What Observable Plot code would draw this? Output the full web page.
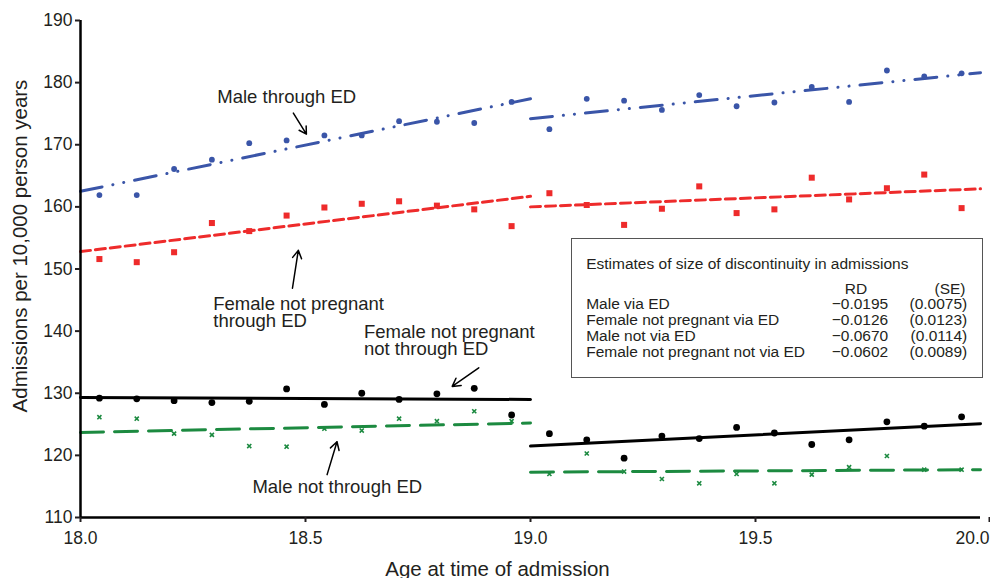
<!DOCTYPE html>
<html>
<head>
<meta charset="utf-8">
<script src="https://cdn.jsdelivr.net/npm/d3@7"></script>
<script src="https://cdn.jsdelivr.net/npm/@observablehq/plot@0.6"></script>
<style>
  body { margin: 0; background: white; }
  #wrap { position: relative; width: 990px; height: 578px; font-family: 'Liberation Sans', Arial, Helvetica, sans-serif; }
  #wrap svg { position: absolute; left: 0; top: 0; }
  #table { position: absolute; left: 571px; top: 238px; width: 412px; height: 140px; border: 1.5px solid #555; box-sizing: border-box; background: white; color: #231f20; font-size: 15.5px; }
  #table span { position: absolute; line-height: 15.5px; white-space: nowrap; }
</style>
</head>
<body>
<div id="wrap"><div id="table"></div></div>
<script>
// ---------- data ----------
const ages = [18.042, 18.125, 18.208, 18.292, 18.375, 18.458, 18.542, 18.625, 18.708, 18.792, 18.875, 18.958,
              19.042, 19.125, 19.208, 19.292, 19.375, 19.458, 19.542, 19.625, 19.708, 19.792, 19.875, 19.958];

const maleED = [161.9, 161.9, 166.1, 167.6, 170.25, 170.7, 171.5, 171.5, 173.8, 173.7, 173.5, 176.9,
                172.5, 177.4, 177.1, 175.6, 178.0, 176.2, 176.8, 179.3, 176.9, 181.95, 181.0, 181.5];
const femaleED = [151.6, 151.1, 152.7, 157.4, 156.1, 158.6, 159.9, 160.5, 160.9, 160.2, 159.6, 156.9,
                  162.2, 160.3, 157.1, 159.7, 163.3, 159.0, 159.6, 164.7, 161.2, 163.0, 165.2, 159.8];
const femaleNotED = [129.2, 129.1, 128.8, 128.5, 128.7, 130.7, 128.2, 130.0, 129.0, 129.9, 130.8, 126.5,
                     123.5, 122.5, 119.55, 123.1, 122.7, 124.5, 123.6, 121.75, 122.5, 125.4, 124.7, 126.2];
const maleNotED = [126.15, 125.9, 123.5, 123.3, 121.5, 121.4, 124.3, 124.0, 125.9, 125.5, 127.1, 125.5,
                   117.0, 120.3, 117.4, 116.2, 115.5, 117.0, 115.5, 116.9, 118.1, 119.9, 117.7, 117.7];

// fitted lines: [value at start, value at end] for each side of the cutoff
const fitAgesLeft = [18.0, 19.0];
const fitAgesRight = [19.0, 20.0];
const maleEDFitLeft = [162.5, 177.4];
const maleEDFitRight = [174.2, 181.6];
const femaleEDFitLeft = [152.8, 161.7];
const femaleEDFitRight = [160.0, 162.9];
const femaleNotEDFitLeft = [129.3, 129.0];
const femaleNotEDFitRight = [121.5, 125.1];
const maleNotEDFitLeft = [123.7, 125.2];
const maleNotEDFitRight = [117.3, 117.7];

const xTicks = [18.0, 18.5, 19.0, 19.5];
const xLastTick = [20.0];
const yTicks = [110, 120, 130, 140, 150, 160, 170, 180, 190];

const xLabel = "Age at time of admission";
const yLabel = "Admissions per 10,000 person years";

// annotations (data units)
const annotationText = ["Male through ED", "Female not pregnant\nthrough ED", "Female not pregnant\nnot through ED", "Male not through ED"];
const annotationAge = [18.304, 18.295, 18.630, 18.382];
const annotationValue = [176.7, 140.6, 136.2, 114.0];
const arrowAge1 = [18.473, 18.471, 18.885, 18.548];
const arrowValue1 = [175.1, 146.9, 134.1, 116.9];
const arrowAge2 = [18.502, 18.484, 18.826, 18.570];
const arrowValue2 = [171.7, 153.0, 131.1, 122.2];

// table
const tableTitle = "Estimates of size of discontinuity in admissions";
const tableHeaders = ["RD", "(SE)"];
const tableRowLabels = ["Male via ED", "Female not pregnant via ED", "Male not via ED", "Female not pregnant not via ED"];
const tableRD = ["\u22120.0195", "\u22120.0126", "\u22120.0670", "\u22120.0602"];
const tableSE = ["(0.0075)", "(0.0123)", "(0.0114)", "(0.0089)"];

// ---------- build ----------
const fontFamily = "'Liberation Sans', Arial, Helvetica, sans-serif";
const textColor = "#231f20";

function pts(values) { return ages.map((a, i) => ({age: a, value: values[i]})); }
function fit(left, right) {
  return [
    ...fitAgesLeft.map((a, i) => ({age: a, value: left[i], side: "left"})),
    ...fitAgesRight.map((a, i) => ({age: a, value: right[i], side: "right"}))
  ];
}
const annotations = annotationText.map((t, i) => ({text: t, age: annotationAge[i], value: annotationValue[i]}));
const arrows = arrowAge1.map((a, i) => ({x1: a, y1: arrowValue1[i], x2: arrowAge2[i], y2: arrowValue2[i]}));

const blue = "#3a55a8", red = "#ee2b2b", green = "#1c8a40", black = "#000000";

const chart = Plot.plot({
  width: 990,
  height: 578,
  marginLeft: 80,
  marginRight: 10,
  marginTop: 20,
  marginBottom: 61,
  x: {domain: [18, 20]},
  y: {domain: [110, 190]},
  style: {fontFamily, background: "transparent", color: textColor},
  marks: [
    // fitted lines
    Plot.line(fit(maleEDFitLeft, maleEDFitRight), {x: "age", y: "value", z: "side", stroke: blue, strokeWidth: 3, strokeDasharray: "22,11,0.1,11,0.1,11", strokeLinecap: "round"}),
    Plot.line(fit(femaleEDFitLeft, femaleEDFitRight), {x: "age", y: "value", z: "side", stroke: red, strokeWidth: 3, strokeDasharray: "10,5"}),
    Plot.line(fit(femaleNotEDFitLeft, femaleNotEDFitRight), {x: "age", y: "value", z: "side", stroke: black, strokeWidth: 3}),
    Plot.line(fit(maleNotEDFitLeft, maleNotEDFitRight), {x: "age", y: "value", z: "side", stroke: green, strokeWidth: 3, strokeDasharray: "23,11"}),
    // points
    Plot.dot(pts(maleED), {x: "age", y: "value", r: 2.9, fill: blue, symbol: "circle"}),
    Plot.dot(pts(femaleED), {x: "age", y: "value", r: 3.4, fill: red, symbol: "square"}),
    Plot.dot(pts(femaleNotED), {x: "age", y: "value", r: 3.4, fill: black, symbol: "circle"}),
    Plot.dot(pts(maleNotED), {x: "age", y: "value", r: 2, stroke: green, strokeWidth: 1.6, symbol: "times"}),
    // annotations
    Plot.arrow(arrows, {x1: "x1", y1: "y1", x2: "x2", y2: "y2", stroke: black, strokeWidth: 1.5, headLength: 9}),
    Plot.text(annotations, {x: "age", y: "value", text: "text", textAnchor: "start", lineAnchor: "bottom", lineHeight: 0.92, fontSize: 18.5, fill: textColor}),
    // axes
    Plot.ruleX([18], {stroke: black, strokeWidth: 2.5}),
    Plot.ruleY([110], {stroke: black, strokeWidth: 2.5}),
    Plot.axisX(xTicks, {tickFormat: d => d.toFixed(1), tickSize: 5, tickPadding: 9, fontSize: 17.5, strokeWidth: 2, label: null, fill: textColor}),
    Plot.axisX(xLastTick, {tickFormat: d => d.toFixed(1), tickSize: 5, tickPadding: 9, fontSize: 17.5, strokeWidth: 2, label: null, textAnchor: "end", dx: 9, fill: textColor}),
    Plot.axisY(yTicks, {tickSize: 5, tickPadding: 3, fontSize: 17.5, strokeWidth: 2, label: null, fill: textColor}),
    Plot.text([xLabel], {frameAnchor: "bottom", lineAnchor: "bottom", dx: -33, dy: 58, fontSize: 20.5, fill: textColor}),
    Plot.text([yLabel], {frameAnchor: "left", textAnchor: "middle", lineAnchor: "middle", rotate: -90, dx: -60, dy: -23, fontSize: 20.5, fill: textColor})
  ]
});
document.getElementById("wrap").prepend(chart);

// table overlay
const table = document.getElementById("table");
const asc = 13.1;        // baseline offset within span
function addSpan(text, baseline, opts) {
  const s = document.createElement("span");
  s.textContent = text;
  s.style.top = (baseline - 1.5 - asc) + "px";
  if (opts.left != null) s.style.left = opts.left + "px";
  if (opts.right != null) s.style.right = opts.right + "px";
  table.appendChild(s);
}
addSpan(tableTitle, 32, {left: 14.2});
addSpan(tableHeaders[0], 57, {right: 114.8});
addSpan(tableHeaders[1], 57, {right: 16.5});
const rowBase = [72, 88, 104, 120];
tableRowLabels.forEach((lab, i) => {
  addSpan(lab, rowBase[i], {left: 14.2});
  addSpan(tableRD[i], rowBase[i], {right: 93.8});
  addSpan(tableSE[i], rowBase[i], {right: 14.8});
});
</script>
</body>
</html>
